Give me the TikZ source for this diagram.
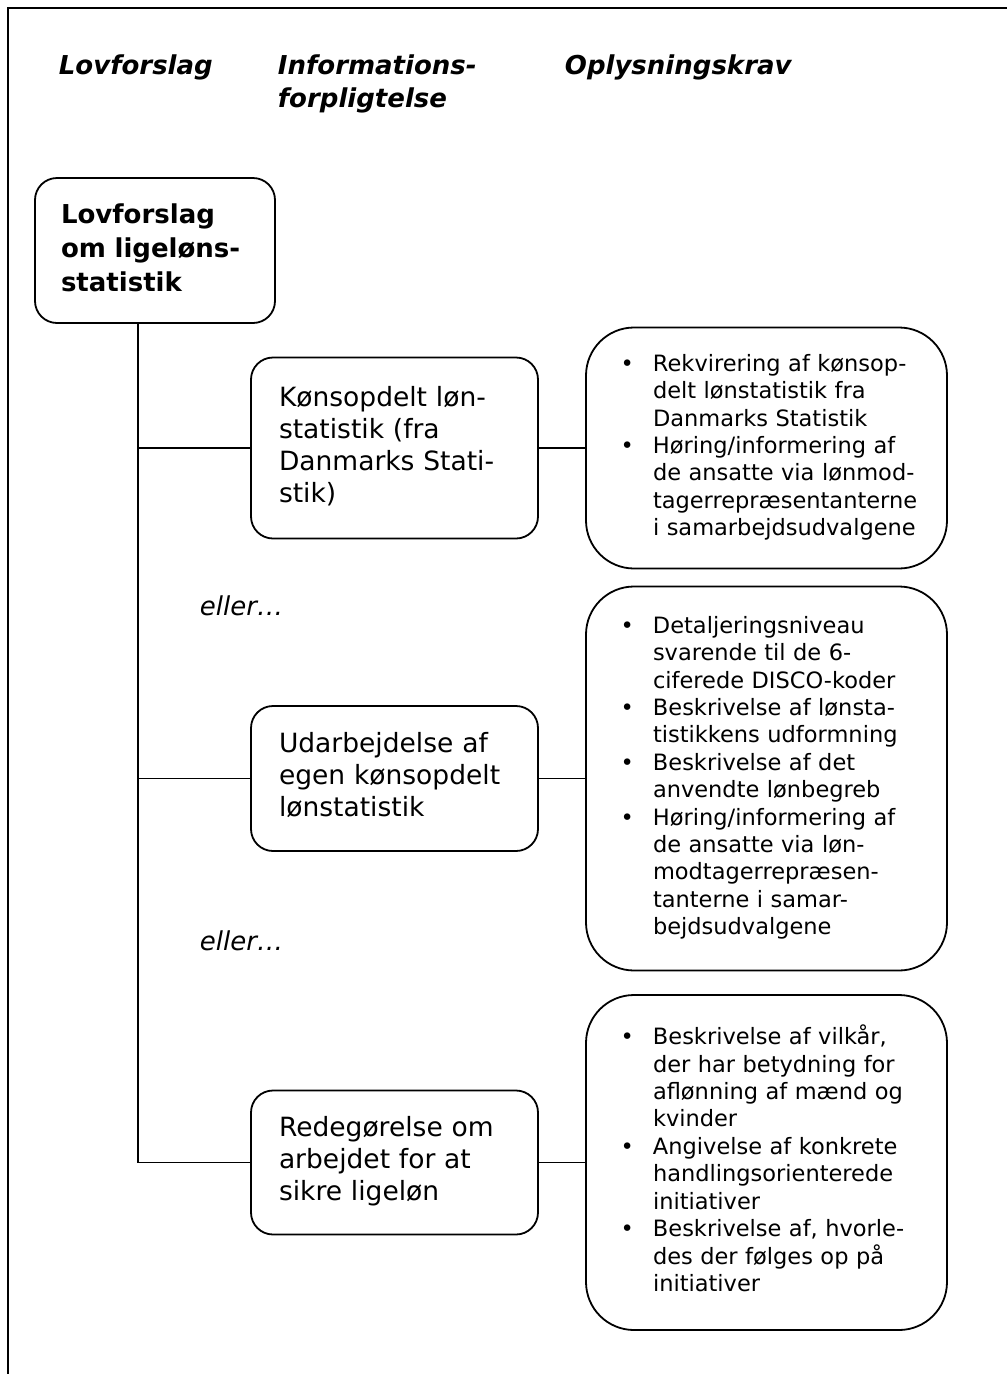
\documentclass[tikz,border=0pt]{standalone}
\usepackage{fontspec}
\setmainfont{DejaVu Sans}
\newcommand{\bl}{\makebox[32.5pt][l]{\textbullet}}

\begin{document}
\begin{tikzpicture}[x=1pt,y=-1pt,line width=1.8pt,
	rootbox/.style={draw,rounded corners=22pt,inner xsep=26pt,text width=188pt,align=left,
		minimum width=240pt,minimum height=145pt,font=\bfseries\fontsize{26}{34}\selectfont},
	optbox/.style={draw,rounded corners=22pt,inner xsep=28pt,text width=231pt,align=left,
		minimum width=287pt,font=\fontsize{26.5}{32}\selectfont},
	reqbox/.style={draw,rounded corners=48pt,inner xsep=34.5pt,text width=292pt,align=left,
		minimum width=361pt,font=\fontsize{22.5}{27.4}\selectfont},
	head/.style={anchor=base west,inner sep=0pt,font=\bfseries\itshape\fontsize{26}{33}\selectfont},
	orword/.style={anchor=base west,inner sep=0pt,font=\itshape\fontsize{26}{32}\selectfont}]
				\useasboundingbox (0,0) rectangle (1007,1374);
				\draw[line width=2.2pt] (8,1374) -- (8,8) -- (1007,8);
				\node[head] (hlov) at (58,74) {Lovforslag};
				\node[head] (hinf) at (277,74) {\begin{tabular}[t]{@{}l@{}}Informations-\\forpligtelse\end{tabular}};
				\node[head] (hopl) at (564,74) {Oplysningskrav};
				\node[rootbox] (lov) at (155,250.5) {\begin{tabular}{@{}l@{}}Lovforslag\\om ligeløns-\\statistik\end{tabular}};
				\node[optbox,minimum height=181pt] (kons) at (394.5,448) {\begin{tabular}{@{}l@{}}Kønsopdelt løn-\\statistik (fra\\Danmarks Stati-\\stik)\end{tabular}};
				\node[optbox,minimum height=145pt] (udarb) at (394.5,778.5) {\begin{tabular}{@{}l@{}}Udarbejdelse af\\egen kønsopdelt\\lønstatistik\end{tabular}};
				\node[optbox,minimum height=144pt] (redeg) at (394.5,1162.5) {\begin{tabular}{@{}l@{}}Redegørelse om\\arbejdet for at\\sikre ligeløn\end{tabular}};
				\node[reqbox,minimum height=241pt] (rekv) at (766.5,448) {\begin{tabular}{@{}l@{}l@{}}
					\bl & Rekvirering af kønsop-\\ & delt lønstatistik fra\\ & Danmarks Statistik\\
					\bl & Høring/informering af\\ & de ansatte via lønmod-\\ & tagerrepræsentanterne\\ & i samarbejdsudvalgene
				\end{tabular}};
				\node[reqbox,minimum height=384pt] (detal) at (766.5,778.5) {\begin{tabular}{@{}l@{}l@{}}
					\bl & Detaljeringsniveau\\ & svarende til de 6-\\ & ciferede DISCO-koder\\
					\bl & Beskrivelse af lønsta-\\ & tistikkens udformning\\
					\bl & Beskrivelse af det\\ & anvendte lønbegreb\\
					\bl & Høring/informering af\\ & de ansatte via løn-\\ & modtagerrepræsen-\\ & tanterne i samar-\\ & bejdsudvalgene
				\end{tabular}};
				\node[reqbox,minimum height=335pt] (beskr) at (766.5,1162.5) {\begin{tabular}{@{}l@{}l@{}}
					\bl & Beskrivelse af vilkår,\\ & der har betydning for\\ & aflønning af mænd og\\ & kvinder\\
					\bl & Angivelse af konkrete\\ & handlingsorienterede\\ & initiativer\\
					\bl & Beskrivelse af, hvorle-\\ & des der følges op på\\ & initiativer
				\end{tabular}};
				\node[orword] (eller1) at (199,615) {eller…};
				\node[orword] (eller2) at (199,950) {eller…};
				\coordinate (trunk) at (138,1162.5);
				\draw (lov.south -| trunk) -- (trunk);
				\draw (trunk |- kons.west) -- (kons.west);
				\draw (trunk |- udarb.west) -- (udarb.west);
				\draw (trunk) -- (redeg.west);
				\draw (kons) -- (rekv);
				\draw (udarb) -- (detal);
				\draw (redeg) -- (beskr);
\end{tikzpicture}
\end{document}
